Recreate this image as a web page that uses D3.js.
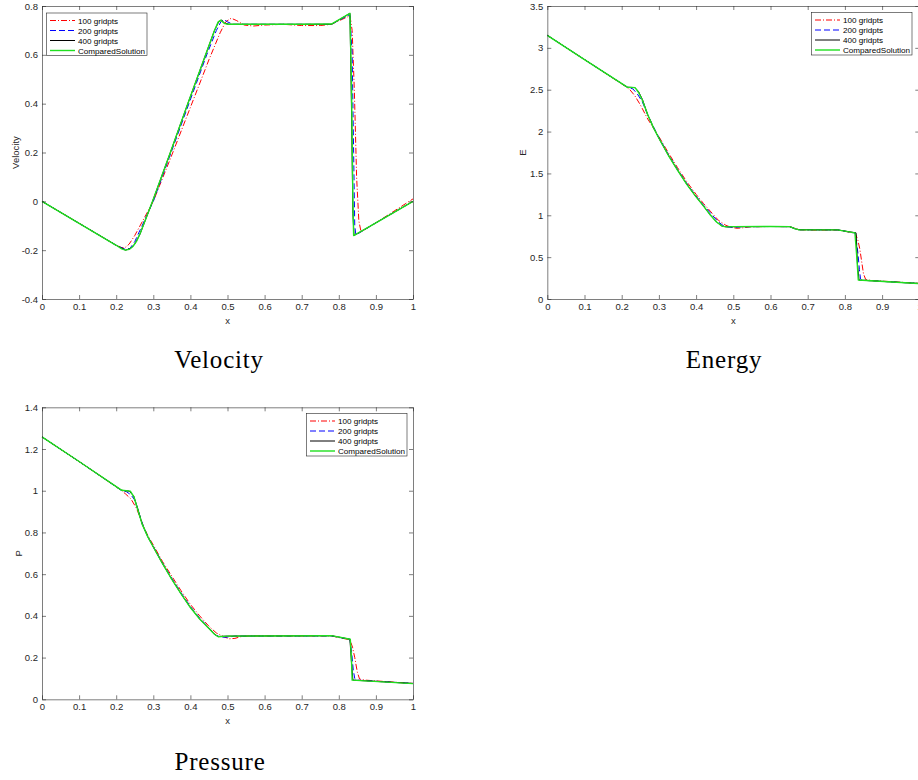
<!DOCTYPE html>
<html>
<head>
<meta charset="utf-8">
<script src="https://d3js.org/d3.v7.min.js"></script>
<style>
  body { margin: 0; background: #fff; }
  text { font-family: "Liberation Sans", Arial, sans-serif; }
</style>
</head>
<body>
<div id="chart"></div>
<script>
// Series names and tick values
var seriesNames = ["100 gridpts", "200 gridpts", "400 gridpts", "ComparedSolution"];
var xTicks = [0, 0.1, 0.2, 0.3, 0.4, 0.5, 0.6, 0.7, 0.8, 0.9, 1];
var velTicks = [-0.4, -0.2, 0, 0.2, 0.4, 0.6, 0.8];
var energyTicks = [0, 0.5, 1, 1.5, 2, 2.5, 3, 3.5];
var pressureTicks = [0, 0.2, 0.4, 0.6, 0.8, 1, 1.2, 1.4];

// Velocity as [x, value]
var vel100 = [[0,0],[0.1,-0.09],[0.2,-0.18],[0.215,-0.19],[0.225,-0.188],[0.235,-0.175],[0.25,-0.14],[0.3,0.0],[0.35,0.19],[0.4,0.385],[0.45,0.58],[0.48,0.69],[0.495,0.735],[0.51,0.75],[0.525,0.74],[0.545,0.722],[0.57,0.718],[0.6,0.722],[0.65,0.725],[0.7,0.72],[0.75,0.72],[0.78,0.725],[0.83,0.76],[0.836,0.7],[0.842,0.45],[0.848,0.1],[0.854,-0.08],[0.86,-0.125],[0.9,-0.088],[1,0.01]];
var vel200 = [[0,0],[0.1,-0.09],[0.2,-0.18],[0.225,-0.197],[0.237,-0.193],[0.25,-0.165],[0.3,0.0],[0.348,0.2],[0.396,0.4],[0.444,0.6],[0.47,0.7],[0.482,0.735],[0.49,0.745],[0.5,0.735],[0.515,0.725],[0.6,0.725],[0.78,0.725],[0.83,0.765],[0.836,0.6],[0.84,0.2],[0.843,-0.1],[0.846,-0.138],[0.9,-0.088],[1,0]];
var vel400 = [[0,0],[0.1,-0.09],[0.2,-0.18],[0.225,-0.2],[0.24,-0.192],[0.25,-0.175],[0.264,-0.135],[0.298,0.0],[0.346,0.2],[0.393,0.4],[0.441,0.6],[0.465,0.7],[0.476,0.735],[0.484,0.742],[0.492,0.73],[0.505,0.725],[0.78,0.725],[0.83,0.77],[0.834,0.4],[0.838,-0.05],[0.841,-0.14],[0.9,-0.088],[1,0]];
var velExact = [[0,0],[0.1,-0.09],[0.2,-0.18],[0.215,-0.195],[0.225,-0.2],[0.235,-0.197],[0.245,-0.185],[0.255,-0.163],[0.265,-0.13],[0.298,0.0],[0.346,0.2],[0.393,0.4],[0.441,0.6],[0.465,0.7],[0.475,0.735],[0.482,0.742],[0.49,0.73],[0.5,0.725],[0.6,0.725],[0.7,0.725],[0.78,0.726],[0.83,0.77],[0.834,0.5],[0.838,0.0],[0.84,-0.14],[0.9,-0.088],[1,0]];

// Energy
var energy100 = [[0,3.15],[0.1,2.86],[0.21,2.54],[0.222,2.5],[0.235,2.43],[0.25,2.32],[0.27,2.15],[0.3,1.94],[0.325,1.75],[0.35,1.57],[0.375,1.4],[0.4,1.25],[0.42,1.14],[0.44,1.04],[0.46,0.94],[0.48,0.88],[0.495,0.855],[0.51,0.845],[0.525,0.85],[0.545,0.862],[0.6,0.866],[0.652,0.864],[0.665,0.845],[0.68,0.826],[0.72,0.822],[0.78,0.825],[0.828,0.785],[0.835,0.7],[0.84,0.6],[0.845,0.45],[0.85,0.3],[0.856,0.232],[0.87,0.222],[1,0.187]];
var energy200 = [[0,3.15],[0.1,2.86],[0.215,2.53],[0.23,2.51],[0.242,2.45],[0.255,2.36],[0.27,2.2],[0.285,2.06],[0.3,1.93],[0.325,1.73],[0.35,1.55],[0.375,1.38],[0.4,1.23],[0.42,1.12],[0.44,1.02],[0.46,0.92],[0.475,0.87],[0.49,0.858],[0.505,0.856],[0.52,0.862],[0.6,0.866],[0.652,0.864],[0.668,0.835],[0.68,0.827],[0.78,0.826],[0.828,0.787],[0.835,0.55],[0.839,0.35],[0.842,0.24],[0.846,0.225],[1,0.185]];
var energy400 = [[0,3.15],[0.1,2.86],[0.215,2.53],[0.235,2.525],[0.245,2.48],[0.256,2.38],[0.27,2.2],[0.285,2.05],[0.3,1.92],[0.325,1.72],[0.35,1.54],[0.375,1.37],[0.4,1.22],[0.42,1.11],[0.437,1.01],[0.455,0.92],[0.47,0.87],[0.482,0.862],[0.5,0.864],[0.6,0.866],[0.652,0.864],[0.665,0.84],[0.675,0.828],[0.78,0.826],[0.83,0.79],[0.834,0.4],[0.838,0.226],[1,0.185]];
var energyExact = [[0,3.15],[0.1,2.86],[0.215,2.53],[0.236,2.525],[0.245,2.47],[0.255,2.38],[0.27,2.2],[0.285,2.05],[0.3,1.92],[0.325,1.72],[0.35,1.54],[0.375,1.37],[0.4,1.22],[0.42,1.11],[0.437,1.01],[0.455,0.92],[0.47,0.87],[0.48,0.862],[0.5,0.865],[0.6,0.866],[0.652,0.864],[0.665,0.84],[0.675,0.828],[0.78,0.826],[0.827,0.79],[0.832,0.5],[0.836,0.227],[1,0.185]];

// Pressure
var pressure100 = [[0,1.258],[0.1,1.14],[0.215,1.0],[0.225,0.985],[0.24,0.96],[0.255,0.915],[0.27,0.845],[0.285,0.785],[0.3,0.74],[0.325,0.66],[0.35,0.59],[0.375,0.52],[0.4,0.455],[0.425,0.4],[0.45,0.35],[0.47,0.318],[0.49,0.3],[0.505,0.29],[0.52,0.292],[0.535,0.3],[0.56,0.304],[0.78,0.304],[0.83,0.285],[0.837,0.25],[0.843,0.2],[0.85,0.13],[0.856,0.097],[0.87,0.092],[1,0.076]];
var pressure200 = [[0,1.258],[0.1,1.14],[0.215,1.0],[0.228,0.995],[0.24,0.98],[0.25,0.955],[0.26,0.9],[0.272,0.835],[0.285,0.78],[0.3,0.733],[0.325,0.653],[0.35,0.58],[0.375,0.51],[0.4,0.445],[0.425,0.39],[0.45,0.342],[0.47,0.305],[0.485,0.298],[0.5,0.298],[0.52,0.303],[0.78,0.304],[0.83,0.287],[0.835,0.22],[0.839,0.14],[0.843,0.1],[0.848,0.092],[1,0.076]];
var pressure400 = [[0,1.258],[0.1,1.14],[0.215,1.002],[0.235,0.998],[0.247,0.975],[0.258,0.915],[0.27,0.84],[0.285,0.78],[0.3,0.73],[0.325,0.65],[0.35,0.575],[0.375,0.505],[0.4,0.44],[0.425,0.385],[0.45,0.34],[0.465,0.312],[0.475,0.301],[0.5,0.303],[0.78,0.305],[0.83,0.288],[0.834,0.18],[0.838,0.092],[1,0.076]];
var pressureExact = [[0,1.258],[0.1,1.14],[0.215,1.002],[0.238,0.998],[0.248,0.97],[0.258,0.91],[0.27,0.84],[0.285,0.78],[0.3,0.73],[0.325,0.65],[0.35,0.575],[0.375,0.505],[0.4,0.44],[0.425,0.385],[0.45,0.34],[0.465,0.312],[0.475,0.3],[0.5,0.303],[0.78,0.305],[0.831,0.288],[0.834,0.2],[0.836,0.092],[1,0.075]];

// Line styles per series (same order as seriesNames)
var lineStyles = [
    { color: "#ff0000", dash: "6,2,1,2", width: 1 },
    { color: "#0000ff", dash: "6,3", width: 1 },
    { color: "#000000", dash: null, width: 1 },
    { color: "#1fe01f", dash: null, width: 1.4 }
];

var svg = d3.select("#chart")
    .append("svg")
    .attr("width", 918)
    .attr("height", 780);

var fmt = function(d) { return String(+d.toFixed(1)); };

// Draw one MATLAB-style panel
function drawPanel(cfg) {
    var x = d3.scaleLinear().domain([0, 1]).range([cfg.left, cfg.right]);
    var y = d3.scaleLinear().domain(cfg.yDomain).range([cfg.bottom, cfg.top]);

    var g = svg.append("g");

    // lines
    var line = d3.line().x(d => x(d[0])).y(d => y(d[1]));
    cfg.series.forEach(function(s, i) {
        var st = lineStyles[i];
        g.append("path")
            .datum(s)
            .attr("d", line)
            .attr("fill", "none")
            .attr("stroke", st.color)
            .attr("stroke-width", st.width)
            .attr("stroke-dasharray", st.dash)
            .attr("stroke-linejoin", "round");
    });

    // axes (ticks pointing inward, box on)
    var axes = [
        { ax: d3.axisBottom(x).tickValues(xTicks).tickFormat(fmt), t: `translate(0, ${cfg.bottom})` },
        { ax: d3.axisTop(x).tickValues(xTicks).tickFormat(""), t: `translate(0, ${cfg.top})` },
        { ax: d3.axisLeft(y).tickValues(cfg.yTicks).tickFormat(fmt), t: `translate(${cfg.left}, 0)` },
        { ax: d3.axisRight(y).tickValues(cfg.yTicks).tickFormat(""), t: `translate(${cfg.right}, 0)` }
    ];
    axes.forEach(function(a) {
        var ag = g.append("g")
            .attr("transform", a.t)
            .call(a.ax.tickSizeInner(-4).tickSizeOuter(0).tickPadding(4));
        ag.select(".domain").attr("stroke", "#262626").attr("stroke-width", 0.6);
        ag.selectAll(".tick line").attr("stroke", "#262626").attr("stroke-width", 0.6);
        ag.selectAll(".tick text")
            .attr("fill", "#262626")
            .style("font-size", "9.5px")
            .style("font-family", "Liberation Sans, Arial, sans-serif");
    });

    // axis labels
    g.append("text")
        .attr("x", (cfg.left + cfg.right) / 2)
        .attr("y", cfg.bottom + 25)
        .attr("text-anchor", "middle")
        .attr("fill", "#262626")
        .style("font-size", "9.5px")
        .text("x");

    g.append("text")
        .attr("transform", `translate(${cfg.yLabelX}, ${(cfg.top + cfg.bottom) / 2}) rotate(-90)`)
        .attr("text-anchor", "middle")
        .attr("fill", "#262626")
        .style("font-size", "9.5px")
        .text(cfg.yLabel);

    // legend
    var lg = g.append("g").attr("transform", `translate(${cfg.legendX}, ${cfg.legendY})`);
    lg.append("rect")
        .attr("width", 100.5)
        .attr("height", 42.5)
        .attr("fill", "#fff")
        .attr("stroke", "#262626")
        .attr("stroke-width", 0.6);
    seriesNames.forEach(function(name, i) {
        var st = lineStyles[i];
        var ry = 7.5 + i * 10;
        lg.append("line")
            .attr("x1", 3.5).attr("x2", 28.5)
            .attr("y1", ry).attr("y2", ry)
            .attr("stroke", st.color)
            .attr("stroke-width", st.width)
            .attr("stroke-dasharray", st.dash);
        lg.append("text")
            .attr("x", 31.5)
            .attr("y", ry + 3)
            .attr("fill", "#000")
            .style("font-size", "8.1px")
            .text(name);
    });

    // caption underneath
    svg.append("text")
        .attr("x", cfg.captionX)
        .attr("y", cfg.captionY)
        .attr("text-anchor", "middle")
        .attr("fill", "#000")
        .style("font-family", "Liberation Serif, DejaVu Serif, serif")
        .style("font-size", "25px")
        .style("letter-spacing", "0.8px")
        .text(cfg.caption);
}

drawPanel({
    left: 42, right: 413, top: 6, bottom: 299,
    yDomain: [-0.4, 0.8], yTicks: velTicks, yLabel: "Velocity", yLabelX: 19,
    series: [vel100, vel200, vel400, velExact],
    legendX: 46.5, legendY: 13,
    caption: "Velocity", captionX: 219, captionY: 368
});

drawPanel({
    left: 547.3, right: 919.3, top: 6, bottom: 299,
    yDomain: [0, 3.5], yTicks: energyTicks, yLabel: "E", yLabelX: 526,
    series: [energy100, energy200, energy400, energyExact],
    legendX: 811.5, legendY: 12.5,
    caption: "Energy", captionX: 724, captionY: 368
});

drawPanel({
    left: 42, right: 413, top: 407.3, bottom: 699.3,
    yDomain: [0, 1.4], yTicks: pressureTicks, yLabel: "P", yLabelX: 22,
    series: [pressure100, pressure200, pressure400, pressureExact],
    legendX: 306.5, legendY: 413.5,
    caption: "Pressure", captionX: 220, captionY: 770
});
</script>
</body>
</html>
